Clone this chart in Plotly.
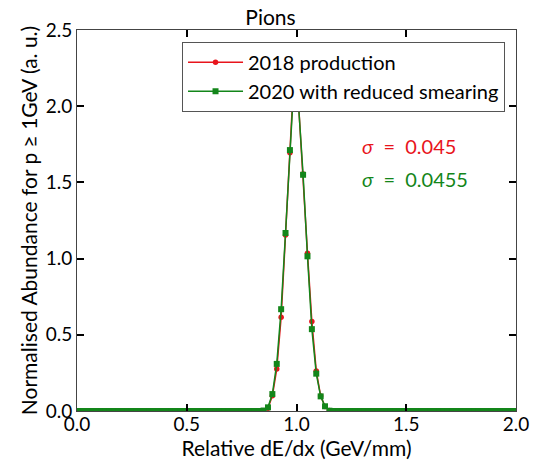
import plotly.graph_objects as go

# Bin centres of the histogram (width 0.02 from 0 to 2)
bin_centres = [round(0.01 + 0.02 * i, 2) for i in range(100)]

# Non-empty region 0.85 .. 1.15 ; all other bins read as zero
peak_2018 = [0.002, 0.018, 0.10, 0.275, 0.615, 1.155, 1.695, 2.25,
             2.0, 1.555, 1.035, 0.587, 0.263, 0.098, 0.03, 0.003]
peak_2020 = [0.003, 0.024, 0.111, 0.309, 0.668, 1.168, 1.712, 2.2,
             1.99, 1.55, 1.015, 0.537, 0.245, 0.096, 0.031, 0.002]
zeros_left = [0.0] * 42
zeros_right = [0.0] * 42
abund_2018 = zeros_left + peak_2018 + zeros_right
abund_2020 = zeros_left + peak_2020 + zeros_right

series_names = ["2018 production", "2020 with reduced smearing"]
sigma_labels = ["0.045", "0.0455"]
x_ticks = [0.0, 0.5, 1.0, 1.5, 2.0]
y_ticks = [0.0, 0.5, 1.0, 1.5, 2.0, 2.5]

RED = "#e8141c"
GREEN = "#13861a"
FONT = "Lato, DejaVu Sans, sans-serif"

fig = go.Figure()
fig.add_trace(go.Scatter(
    x=bin_centres, y=abund_2018, mode="lines+markers", name=series_names[0],
    line=dict(color=RED, width=1.5),
    marker=dict(symbol="circle", size=5.5, color=RED),
))
fig.add_trace(go.Scatter(
    x=bin_centres, y=abund_2020, mode="lines+markers", name=series_names[1],
    line=dict(color=GREEN, width=1.5),
    marker=dict(symbol="square", size=6, color=GREEN),
))

fig.add_annotation(xref="paper", yref="paper", x=0.645, y=0.6945,
                   xanchor="left", yanchor="middle", showarrow=False,
                   text="<i>σ</i>  =  " + sigma_labels[0],
                   font=dict(family=FONT, size=20, color=RED))
fig.add_annotation(xref="paper", yref="paper", x=0.645, y=0.608,
                   xanchor="left", yanchor="middle", showarrow=False,
                   text="<i>σ</i>  =  " + sigma_labels[1],
                   font=dict(family=FONT, size=20, color=GREEN))

axis_common = dict(
    showline=True, linecolor="#444", linewidth=1, mirror="ticks",
    ticks="inside", ticklen=7, tickwidth=2, tickcolor="black",
    showgrid=False, zeroline=False,
    tickfont=dict(family=FONT, size=19, color="black"),
)
fig.update_xaxes(range=[0, 2], tickvals=x_ticks,
                 ticktext=[f"{v:.1f}" for v in x_ticks],
                 ticklabelstandoff=-4,
                 title=dict(text="Relative dE/dx (GeV/mm)", standoff=0,
                            font=dict(family=FONT, size=21, color="black")),
                 **axis_common)
fig.update_yaxes(range=[0, 2.5], tickvals=y_ticks,
                 ticktext=[f"{v:.1f}" for v in y_ticks],
                 title=dict(text="Normalised Abundance for p ≥ 1GeV (a. u.)", standoff=2,
                            font=dict(family=FONT, size=21, color="black")),
                 **axis_common)

fig.update_layout(
    width=541, height=461,
    margin=dict(l=77, r=24, t=30, b=48),
    paper_bgcolor="white", plot_bgcolor="white",
    title=dict(text="Pions", x=0.5, xanchor="center", y=1 - 18 / 461, yanchor="middle",
               font=dict(family=FONT, size=21, color="black")),
    font=dict(family=FONT, color="black"),
    showlegend=True,
    legend=dict(x=0.975, y=0.969, xanchor="right", yanchor="top",
                bgcolor="white", bordercolor="#555", borderwidth=1,
                font=dict(family=FONT, size=20, color="black"),
                itemwidth=55, tracegroupgap=0),
)

fig.write_html("out.html")
